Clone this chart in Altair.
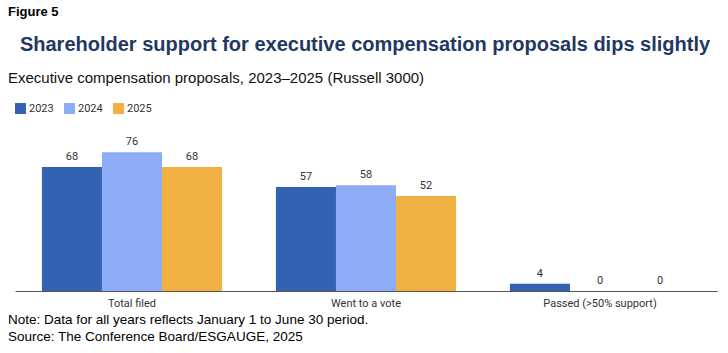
import altair as alt
import pandas as pd

categories = ["Total filed", "Went to a vote", "Passed (>50% support)"]
years = ["2023", "2024", "2025"]
values_2023 = [68, 57, 4]
values_2024 = [76, 58, 0]
values_2025 = [68, 52, 0]
colors = ["#3362b2", "#8cadf6", "#f0b142"]

rows = []
for i, c in enumerate(categories):
    for y, vals in zip(years, [values_2023, values_2024, values_2025]):
        rows.append({"category": c, "year": y, "value": vals[i]})
df = pd.DataFrame(rows)

W, H = 702, 146
FONT = "Liberation Sans"
LFONT = "Roboto"

x = alt.X("category:N", sort=categories, title=None,
          scale=alt.Scale(paddingInner=0.23, paddingOuter=0.115),
          axis=alt.Axis(labelAngle=0, ticks=False, labelPadding=6, labelFont=LFONT,
                        labelFontSize=11, labelColor="#333333", domainColor="#555555",
                        domainWidth=1, grid=False))
y = alt.Y("value:Q", scale=alt.Scale(domain=[0, 80]), axis=None)
xo = alt.XOffset("year:N", sort=years)
color = alt.Color("year:N", sort=years, scale=alt.Scale(domain=years, range=colors),
                  legend=alt.Legend(title=None, orient="none", legendX=0, legendY=-42,
                                    direction="horizontal", symbolType="square",
                                    symbolSize=120, symbolStrokeWidth=0, labelFont=LFONT,
                                    labelFontSize=11, labelColor="#333333", columnPadding=10,
                                    labelOffset=3))

base = alt.Chart(df)
bars = base.mark_bar(opacity=1).encode(x=x, y=y, xOffset=xo, color=color)
labels = base.mark_text(dy=-10, font=LFONT, fontSize=11, color="#333333").encode(
    x=x, y=y, xOffset=xo, text="value:Q")

def txt(s, px, py, size, bold=False, col="#111111", align="left"):
    return alt.Chart(pd.DataFrame({"t": [s]})).mark_text(
        align=align, baseline="middle", font=FONT, fontSize=size,
        fontWeight="bold" if bold else "normal", color=col
    ).encode(x=alt.value(px), y=alt.value(py), text="t:N")

annots = [
    txt("Figure 5", -7, -133, 13, bold=True, col="#000000"),
    txt("Shareholder support for executive compensation proposals dips slightly", W / 2 - 1, -100, 20, bold=True, col="#1f3864", align="center"),
    txt("Executive compensation proposals, 2023\u20132025 (Russell 3000)", -7, -67, 15, col="#111111"),
    txt("Note: Data for all years reflects January 1 to June 30 period.", -7, 175, 13.5, col="#000000"),
    txt("Source: The Conference Board/ESGAUGE, 2025", -7, 192, 13.5, col="#000000"),
]

chart = alt.layer(bars, labels, *annots).properties(
    width=W, height=H,
    autosize=alt.AutoSizeParams(type="none"),
    padding={"left": 15, "top": 145, "right": 11, "bottom": 62},
).configure(background="white").configure_view(strokeWidth=0, stroke="transparent")

chart.save("out.html", embed_options={"renderer": "svg", "actions": False})
